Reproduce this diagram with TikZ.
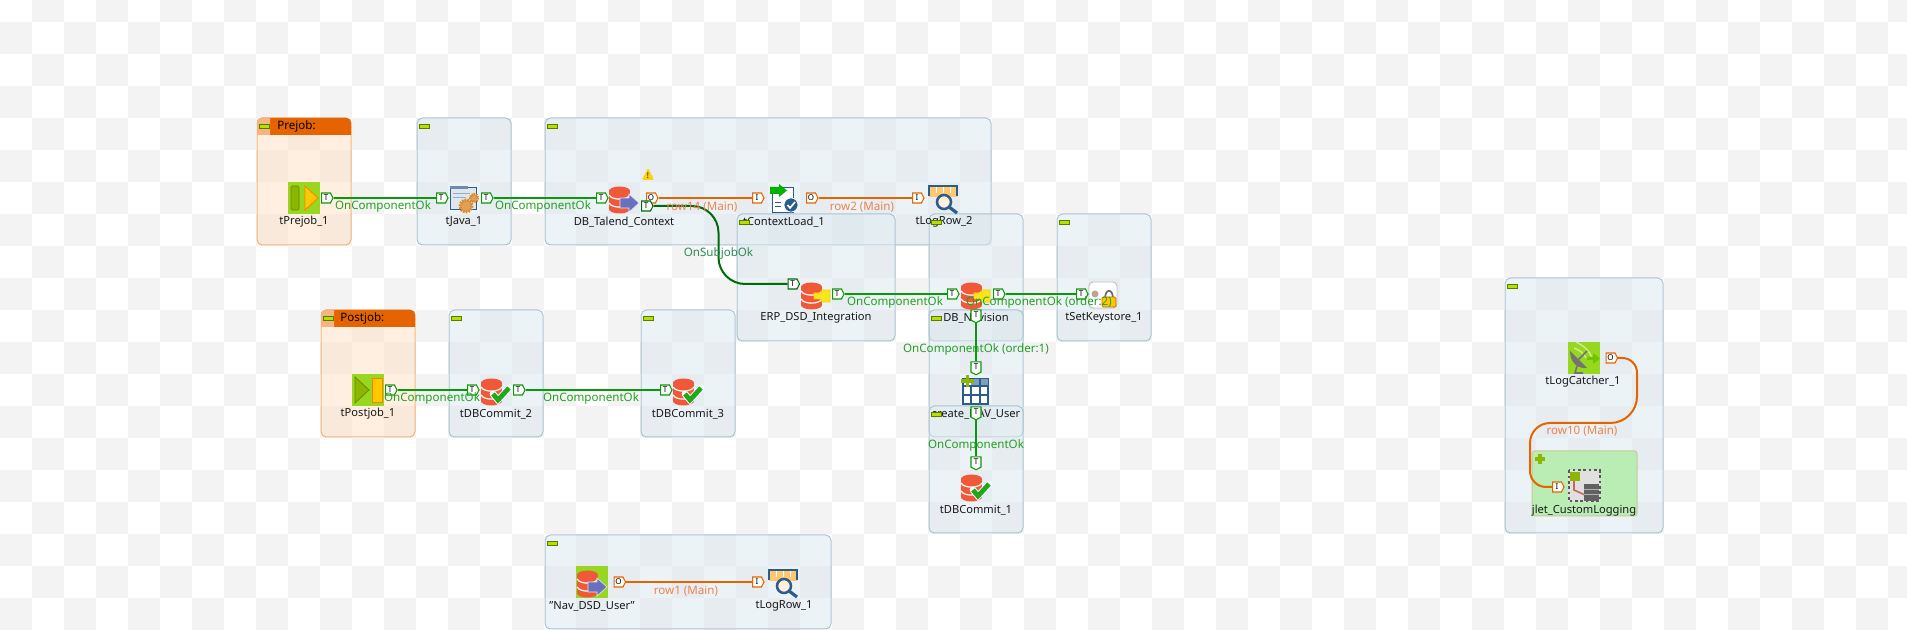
\documentclass[tikz,border=0pt]{standalone}
\usepackage{fontspec}
\setmainfont{Noto Sans}
\usetikzlibrary{shapes.symbols}
\definecolor{chkgrey}{HTML}{F3F3F3}
\definecolor{boxfill}{HTML}{DAE7EE}
\definecolor{boxrim}{HTML}{AEC3D0}
\definecolor{jobfill}{HTML}{FFE0C4}
\definecolor{jobrim}{HTML}{F5B27C}
\definecolor{jobhead}{HTML}{E66400}
\definecolor{jobtab}{HTML}{F5B583}
\definecolor{marklime}{HTML}{B5E000}
\definecolor{markrim}{HTML}{5A7A00}
\definecolor{iconlime}{HTML}{97D720}
\definecolor{iconolive}{HTML}{8DB600}
\definecolor{iconyellow}{HTML}{FFC800}
\definecolor{iconblue}{HTML}{2B5C8A}
\definecolor{dbred}{HTML}{F0583A}
\definecolor{dbarrow}{HTML}{6A70C0}
\definecolor{keyyellow}{HTML}{F6E71B}
\definecolor{checkgreen}{HTML}{1EA81E}
\definecolor{logorange}{HTML}{FFC870}
\definecolor{gearorange}{HTML}{D98A2B}
\definecolor{okgreen}{HTML}{0A990A}
\definecolor{subgreen}{HTML}{006B0A}
\definecolor{okword}{HTML}{22A022}
\definecolor{subword}{HTML}{2A8A55}
\definecolor{rowline}{HTML}{E66400}
\definecolor{rowword}{HTML}{EB8350}
\definecolor{jletfill}{HTML}{B9EDB4}
\definecolor{jletrim}{HTML}{C8C89A}
\begin{document}
\begin{tikzpicture}[x=0.75pt, y=-0.75pt, font=\fontsize{8.7}{10}\selectfont,
  groupbox/.style={draw=boxrim, line width=0.75pt, fill=boxfill, fill opacity=0.5, rounded corners=4pt},
  jobbox/.style={draw=jobrim, line width=0.75pt, fill=jobfill, fill opacity=0.5, rounded corners=4pt},
  minusmark/.style={draw=markrim, line width=0.5pt, fill=marklime},
  complabel/.style={inner sep=0pt, text=black!90, font=\fontsize{8.35}{10}\selectfont},
  titlelabel/.style={inner sep=0pt, anchor=west, font=\fontsize{8.7}{10}\selectfont\bfseries},
  okword/.style={inner sep=0pt, yshift=-0.6pt, text=okword},
  subword/.style={inner sep=0pt, yshift=-0.6pt, text=subword},
  rowword/.style={inner sep=0pt, yshift=-0.6pt, text=rowword},
  portbase/.style={shape=signal, signal from=nowhere, signal pointer angle=125, fill=white, line width=0.8pt,
    inner sep=0pt, minimum width=8.6pt, minimum height=7.5pt, font=\fontsize{6}{6}\selectfont},
  okport/.style={portbase, signal to=east, draw=okgreen},
  okdown/.style={portbase, signal to=south, draw=okgreen, minimum width=7.5pt, minimum height=8.6pt},
  subport/.style={portbase, signal to=east, draw=subgreen},
  rowport/.style={portbase, signal to=east, draw=rowline},
  oklink/.style={draw=okgreen, line width=1.5pt},
  sublink/.style={draw=subgreen, line width=1.5pt},
  rowlink/.style={draw=rowline, line width=1.5pt},
  dbstack/.pic={
    \fill[dbred] (1,9) rectangle (22,27);
    \fill[dbred] (11.5,9) ellipse (10.5 and 4.5);
    \fill[dbred] (11.5,27) ellipse (10.5 and 4.5);
    \draw[white, line width=0.9pt] (1,13) .. controls (4,18.5) and (19,18.5) .. (22,13);
    \draw[white, line width=0.9pt] (1,21) .. controls (4,26.5) and (19,26.5) .. (22,21);
  },
  dbarrowhead/.pic={
    \filldraw[fill=dbarrow, draw=white!80!dbarrow, line width=0.5pt] (12,16) -- (21,16) -- (21,12) -- (31,21) -- (21,30) -- (21,26) -- (12,26) -- cycle;
  },
  dbkey/.pic={
    \filldraw[fill=keyyellow, draw=iconyellow, line width=0.5pt] (14,15) -- (21,15) -- (22,12) -- (30,12) -- (30,24) -- (22,24) -- (21,21) -- (14,21) -- cycle;
  },
  dbcheck/.pic={
    \draw[white, line width=5pt, line cap=round] (13,20) -- (18,26) -- (29,14);
    \draw[checkgreen, line width=3.6pt] (13,20) -- (18,26) -- (29,14);
  },
  logview/.pic={
    \fill[logorange] (1,5) rectangle (29,15);
    \draw[iconblue, line width=1pt] (1,14) -- (1,4) -- (29,4) -- (29,14);
    \draw[white, line width=0.6pt] (8,5) -- (8,11) (15,5) -- (15,11) (22,5) -- (22,11);
    \draw[iconblue, line width=1.9pt, fill=white!75!logorange] (16,20) circle (7);
    \draw[iconblue, line width=2.4pt] (21,25) -- (29,31);
  }]
  \useasboundingbox (0,0) rectangle (1907,630);
  \clip (0,0) rectangle (1907,630);
  \foreach \i in {0,...,59}
    \foreach \j in {0,...,20}
      {\ifodd\numexpr\i+\j\relax \fill[chkgrey] (32*\i,32*\j-10) rectangle +(32,32); \fi}

  \draw[jobbox] (257,118) rectangle (351,245);
  \draw[jobbox] (321,310) rectangle (415,437);
  \draw[groupbox] (417,118) rectangle (511,245);
  \draw[groupbox] (545,118) rectangle (991,245);
  \draw[groupbox] (737,214) rectangle (895,341);
  \draw[groupbox] (929,214) rectangle (1023,341);
  \draw[groupbox] (1057,214) rectangle (1151,341);
  \draw[groupbox] (449,310) rectangle (543,437);
  \draw[groupbox] (641,310) rectangle (735,437);
  \draw[groupbox] (929,310) rectangle (1023,437);
  \draw[groupbox] (929,406) rectangle (1023,533);
  \draw[groupbox] (545,535) rectangle (831,629);
  \draw[groupbox] (1505,278) rectangle (1663,533);
  \filldraw[draw=jletrim, fill=jletfill, line width=0.75pt, rounded corners=2pt] (1532,451) rectangle (1637,516);

  \fill[jobhead] (257,135) [rounded corners=3pt] -- (257,118) -- (351,118) [sharp corners] -- (351,135) -- cycle;
  \fill[jobtab] (257,135) [rounded corners=3pt] -- (257,118) [sharp corners] -- (270,118) -- (270,135) -- cycle;
  \fill[jobhead] (321,327) [rounded corners=3pt] -- (321,310) -- (415,310) [sharp corners] -- (415,327) -- cycle;
  \fill[jobtab] (321,327) [rounded corners=3pt] -- (321,310) [sharp corners] -- (334,310) -- (334,327) -- cycle;
  \node[titlelabel] (prejobtitle) at (277,126) {Prejob:};
  \node[titlelabel] (postjobtitle) at (340,318) {Postjob:};

  \fill[iconlime] (288,182) rectangle (320,214);
  \filldraw[fill=iconolive, draw=black!25!iconolive, line width=0.6pt, rounded corners=1pt] (291,186) rectangle (299,210);
  \filldraw[fill=iconyellow, draw=orange, line width=0.6pt] (305,186) -- (318,198) -- (305,210) -- cycle;

  \fill[iconlime] (352,374) rectangle (384,406);
  \filldraw[fill=iconolive, draw=black!25!iconolive, line width=0.6pt] (355,377) -- (369,390) -- (355,403) -- cycle;
  \filldraw[fill=iconyellow, draw=orange, line width=0.6pt] (372,378) rectangle (382,402);

  \filldraw[fill=white!85!iconblue, draw=iconblue, line width=0.6pt] (450,187) -- (476,187) -- (476,209) -- (450,209) -- cycle;
  \fill[iconblue!70] (450,186) rectangle (468,189);
  \draw[iconblue!50, line width=0.5pt] (453,193) -- (470,193) (453,197) -- (466,197);
  \draw[gearorange, line width=2.2pt, dash pattern=on 1.2pt off 0.8pt, fill=gearorange!80] (466,206) circle (6);
  \draw[gearorange, line width=1.8pt, dash pattern=on 1pt off 0.7pt, fill=gearorange!80] (474,198) circle (4);

  \pic at (608,182) {dbstack};
  \pic at (608,182) {dbarrowhead};
  \pic at (800,278) {dbstack};
  \pic at (800,278) {dbkey};
  \pic at (960,278) {dbstack};
  \pic at (960,278) {dbkey};
  \pic at (480,374) {dbstack};
  \pic at (480,374) {dbcheck};
  \pic at (672,374) {dbstack};
  \pic at (672,374) {dbcheck};
  \pic at (960,470) {dbstack};
  \pic at (960,470) {dbcheck};
  \fill[iconlime] (576,566) rectangle (608,598);
  \pic at (576,566) {dbstack};
  \pic at (576,566) {dbarrowhead};

  \fill[yellow!70!orange] (642,180) [rounded corners=1pt] -- (648,168) -- (654,180) -- cycle;
  \node[inner sep=0pt, font=\fontsize{6}{6}\selectfont\bfseries] (warnmark) at (648,175.5) {!};

  \filldraw[fill=white, draw=iconblue, line width=0.7pt] (772,187) rectangle (793,212);
  \draw[iconblue, line width=0.6pt] (775,202) -- (781,202) (775,206) -- (781,206);
  \fill[green!70!black] (770,187) -- (779,187) -- (779,184) -- (787,190.5) -- (779,197) -- (779,194) -- (770,194) -- cycle;
  \filldraw[fill=iconblue, draw=white, line width=0.5pt] (791,205) circle (7);
  \draw[white, line width=1.2pt] (787.5,205) -- (790,208) -- (795,202);

  \pic at (928,182) {logview};
  \pic at (768,566) {logview};

  \filldraw[fill=white, draw=black!25, line width=0.7pt, rounded corners=3pt] (1089,282) rectangle (1117,308);
  \fill[black!40!brown!50] (1095,294) circle (3.5);
  \draw[black!60, line width=1.2pt] (1105,299) .. controls (1105,288) and (1113,288) .. (1113,299);
  \filldraw[fill=iconyellow, draw=orange!80!black, line width=0.5pt, rounded corners=1pt] (1102,297) rectangle (1116,307);

  \filldraw[fill=white, draw=iconblue, line width=1pt] (963,379) rectangle (988,404);
  \fill[iconblue!60] (971,379) rectangle (988,386);
  \draw[iconblue, line width=0.8pt] (971,386) -- (971,404) (980,379) -- (980,404) (963,386) -- (988,386) (963,395) -- (988,395);
  \draw[iconolive, line width=2.6pt] (967.5,375) -- (967.5,387) (961,381) -- (974,381);

  \fill[iconlime] (1568,342) rectangle (1600,374);
  \draw[white!55!iconlime, line width=1pt] (1576,342) .. controls (1584,346) and (1590,351) .. (1592,358);
  \draw[white!55!iconlime, line width=1pt] (1574,348) .. controls (1580,350) and (1584,354) .. (1586,358);
  \fill[black!55] (1570,351) .. controls (1570,362) and (1577,369) .. (1587,368) -- cycle;
  \draw[black!55, line width=1.2pt] (1578,360) -- (1587,351) (1577,366) -- (1575,373) -- (1583,373);
  \fill[iconolive!80!green] (1587,357) -- (1593,357) -- (1593,353) -- (1600,358.5) -- (1593,364) -- (1593,360) -- (1587,360) -- cycle;

  \fill[black!12] (1568,470) rectangle (1600,502);
  \draw[black!65, line width=1.5pt, dash pattern=on 2pt off 2pt] (1568.5,470.5) rectangle (1599.5,501.5);
  \fill[iconolive] (1570,472) rectangle (1580,481);
  \draw[red!50!gray!80, line width=1.2pt] (1574,481) -- (1574,490) -- (1585,495);
  \fill[black!62] (1584,484) rectangle (1599,501);
  \draw[black!30, line width=0.5pt] (1584,489) -- (1599,489) (1584,494) -- (1599,494);

  \node[complabel] (tprejobname) at (304,222) {tPrejob\_1};
  \node[complabel] (tjavaname) at (464,222) {tJava\_1};
  \node[complabel] (talendname) at (624,222) {DB\_Talend\_Context};
  \node[complabel] (contextname) at (784,222) {tContextLoad\_1};
  \node[complabel] (logrowtwoname) at (944,222) {tLogRow\_2};
  \node[complabel] (erpname) at (816,318) {ERP\_DSD\_Integration};
  \node[complabel] (navisionname) at (976,318) {DB\_Navision};
  \node[complabel] (keystorename) at (1104,318) {tSetKeystore\_1};
  \node[complabel] (tpostjobname) at (368,414) {tPostjob\_1};
  \node[complabel] (committwoname) at (496,414) {tDBCommit\_2};
  \node[complabel] (committhreename) at (688,414) {tDBCommit\_3};
  \node[complabel] (createname) at (976,414) {create\_NAV\_User};
  \node[complabel] (commitonename) at (976,510) {tDBCommit\_1};
  \node[complabel] (navname) at (592,606) {"Nav\_DSD\_User"};
  \node[complabel] (logrowonename) at (784,606) {tLogRow\_1};
  \node[complabel] (catchername) at (1583,382) {tLogCatcher\_1};
  \node[complabel] (jletname) at (1584,511) {jlet\_CustomLogging};

  \filldraw[minusmark] (259,124) rectangle (269,128);
  \filldraw[minusmark] (323,316) rectangle (333,320);
  \filldraw[minusmark] (419,124) rectangle (429,128);
  \filldraw[minusmark] (547,124) rectangle (557,128);
  \filldraw[minusmark] (739,220) rectangle (749,224);
  \filldraw[minusmark] (931,220) rectangle (941,224);
  \filldraw[minusmark] (1059,220) rectangle (1069,224);
  \filldraw[minusmark] (451,316) rectangle (461,320);
  \filldraw[minusmark] (643,316) rectangle (653,320);
  \filldraw[minusmark] (931,316) rectangle (941,320);
  \filldraw[minusmark] (931,412) rectangle (941,416);
  \filldraw[minusmark] (547,541) rectangle (557,545);
  \filldraw[minusmark] (1507,284) rectangle (1517,288);
  \draw[iconolive, line width=2.4pt] (1540,454) -- (1540,464) (1535,459) -- (1545,459);

  \node[okport] (prejobout) at (326,198) {T};
  \node[okport] (javain) at (441,198) {T};
  \node[okport] (javaout) at (486,198) {T};
  \node[okport] (talendin) at (601,198) {T};
  \node[rowport] (talendrow) at (651,198) {O};
  \node[subport] (talendsub) at (646,206) {T};
  \node[rowport] (contextin) at (757,198) {I};
  \node[rowport] (contextout) at (811,198) {O};
  \node[rowport] (logrowtwoin) at (917,198) {I};
  \node[subport] (erpin) at (792.5,284) {T};
  \node[okport] (erpout) at (837,294) {T};
  \node[okport] (navisionin) at (952,294) {T};
  \node[okport] (navisionout) at (998,294) {T};
  \node[okport] (keystorein) at (1081,294) {T};
  \node[okdown] (navisiondown) at (976,315) {T};
  \node[okdown] (createin) at (976,367) {T};
  \node[okdown] (createout) at (976,412) {T};
  \node[okdown] (commitonein) at (976,462) {T};
  \node[okport] (postjobout) at (390,390) {T};
  \node[okport] (committwoin) at (472,390) {T};
  \node[okport] (committwoout) at (518,390) {T};
  \node[okport] (committhreein) at (665,390) {T};
  \node[rowport] (navout) at (618.5,582) {O};
  \node[rowport] (logrowonein) at (757,582) {I};
  \node[rowport] (catcherout) at (1610.5,358) {O};
  \node[rowport] (jletin) at (1557,487) {I};

  \draw[oklink] (prejobout.east) -- (javain.west);
  \draw[oklink] (javaout.east) -- (talendin.west);
  \draw[rowlink] (talendrow.east) -- (contextin.west);
  \draw[rowlink] (contextout.east) -- (logrowtwoin.west);
  \draw[sublink, rounded corners=20pt] (talendsub.east) -- (718.5,206) -- (718.5,284) -- (erpin.west);
  \draw[oklink] (erpout.east) -- (navisionin.west);
  \draw[oklink] (navisionout.east) -- (keystorein.west);
  \draw[oklink] (navisiondown.south) -- (createin.north);
  \draw[oklink] (createout.south) -- (commitonein.north);
  \draw[oklink] (postjobout.east) -- (committwoin.west);
  \draw[oklink] (committwoout.east) -- (committhreein.west);
  \draw[rowlink] (navout.east) -- (logrowonein.west);
  \draw[rowlink] (catcherout.east) [rounded corners=11pt] -- (1637,358) [rounded corners=20pt] -- (1637,423) [rounded corners=15pt] -- (1530,423) [rounded corners=12pt] -- (1530,487) -- (jletin.west);

  \node[okword] (okone) at (383,206) {OnComponentOk};
  \node[okword] (oktwo) at (543,206) {OnComponentOk};
  \node[rowword] (rowfourteen) at (702,206) {row14 (Main)};
  \node[rowword] (rowtwo) at (862,206) {row2 (Main)};
  \node[subword] (subok) at (718.5,253) {OnSubjobOk};
  \node[okword] (okthree) at (895,302) {OnComponentOk};
  \node[okword] (orderrtwo) at (1039,302) {OnComponentOk (order:2)};
  \node[okword] (orderone) at (976,349) {OnComponentOk (order:1)};
  \node[okword] (okfour) at (432,398) {OnComponentOk};
  \node[okword] (okfive) at (591,398) {OnComponentOk};
  \node[okword] (oksix) at (976,445) {OnComponentOk};
  \node[rowword] (rowten) at (1582,430) {row10 (Main)};
  \node[rowword] (rowone) at (686,590) {row1 (Main)};
\end{tikzpicture}
\end{document}
